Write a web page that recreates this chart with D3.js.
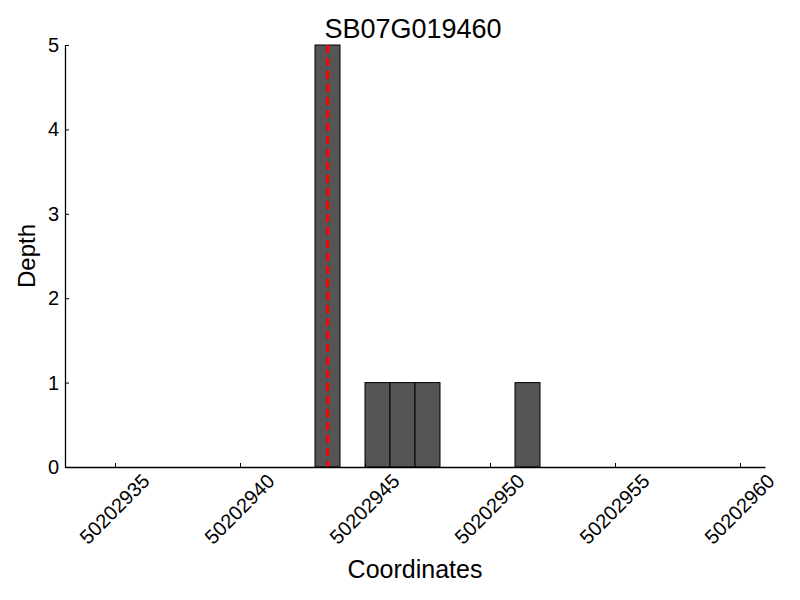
<!DOCTYPE html>
<html lang="en">
<head>
<meta charset="utf-8">
<title>SB07G019460</title>
<script src="https://cdn.jsdelivr.net/npm/d3@7"></script>
<style>
  body { margin: 0; background: #fff; }
  svg text { font-family: "Liberation Sans", Arial, sans-serif; fill: #000; }
</style>
</head>
<body>
<script>
  var title = "SB07G019460";
  var positions = [50202943, 50202945, 50202946, 50202947, 50202951];
  var depths = [5, 1, 1, 1, 1];
  var markerPos = [50202943.5];
  var xTicks = [50202935, 50202940, 50202945, 50202950, 50202955, 50202960];
  var yTicks = [0, 1, 2, 3, 4, 5];

  var w = 800, h = 600;
  var padding = { left: 65, right: 35, top: 45, bottom: 133 };

  var xScale = d3.scaleLinear()
    .domain([50202933, 50202961])
    .range([padding.left, w - padding.right]);
  var yScale = d3.scaleLinear()
    .domain([0, 5])
    .range([h - padding.bottom, padding.top]);

  var svg = d3.select("body").append("svg")
    .attr("width", w)
    .attr("height", h);

  svg.selectAll("rect.bar")
    .data(positions)
    .enter()
    .append("rect")
    .attr("class", "bar")
    .attr("x", d => xScale(d))
    .attr("y", (d, i) => yScale(depths[i]))
    .attr("width", d => xScale(d + 1) - xScale(d))
    .attr("height", (d, i) => yScale(0) - yScale(depths[i]))
    .style("fill", "#555555")
    .style("stroke", "#000")
    .style("stroke-width", 1);

  svg.selectAll("line.marker")
    .data(markerPos)
    .enter()
    .append("line")
    .attr("class", "marker")
    .attr("x1", d => xScale(d))
    .attr("x2", d => xScale(d))
    .attr("y1", yScale(5))
    .attr("y2", yScale(0))
    .style("stroke", "#ff0000")
    .style("stroke-width", 3)
    .style("stroke-dasharray", "8,5");

  var xAxis = d3.axisBottom(xScale)
    .tickValues(xTicks)
    .tickFormat(d3.format("d"))
    .tickSizeInner(-4)
    .tickSizeOuter(0)
    .tickPadding(8);
  var gx = svg.append("g")
    .attr("transform", "translate(0," + (h - padding.bottom) + ")")
    .call(xAxis);
  gx.select(".domain").attr("stroke-width", 1.3);
  gx.selectAll(".tick text")
    .style("font-size", "20px")
    .attr("text-anchor", "middle")
    .attr("dy", "0.35em")
    .attr("y", 0)
    .attr("transform", "translate(-1,42) rotate(-45)");

  var yAxis = d3.axisLeft(yScale)
    .tickValues(yTicks)
    .tickFormat(d3.format("d"))
    .tickSizeInner(-4)
    .tickSizeOuter(0)
    .tickPadding(6);
  var gy = svg.append("g")
    .attr("transform", "translate(" + padding.left + ",0)")
    .call(yAxis);
  gy.select(".domain").attr("stroke-width", 1.3);
  gy.selectAll(".tick text").style("font-size", "20px");

  svg.append("text")
    .text(title)
    .attr("x", (padding.left + w - padding.right) / 2 - 2)
    .attr("y", 38)
    .attr("text-anchor", "middle")
    .style("font-size", "27px");

  svg.append("text")
    .text("Coordinates")
    .attr("x", (padding.left + w - padding.right) / 2)
    .attr("y", 578)
    .attr("text-anchor", "middle")
    .style("font-size", "25px");

  svg.append("text")
    .text("Depth")
    .attr("transform", "translate(35," + ((padding.top + h - padding.bottom) / 2) + ") rotate(-90)")
    .attr("text-anchor", "middle")
    .style("font-size", "24px");
</script>
</body>
</html>
